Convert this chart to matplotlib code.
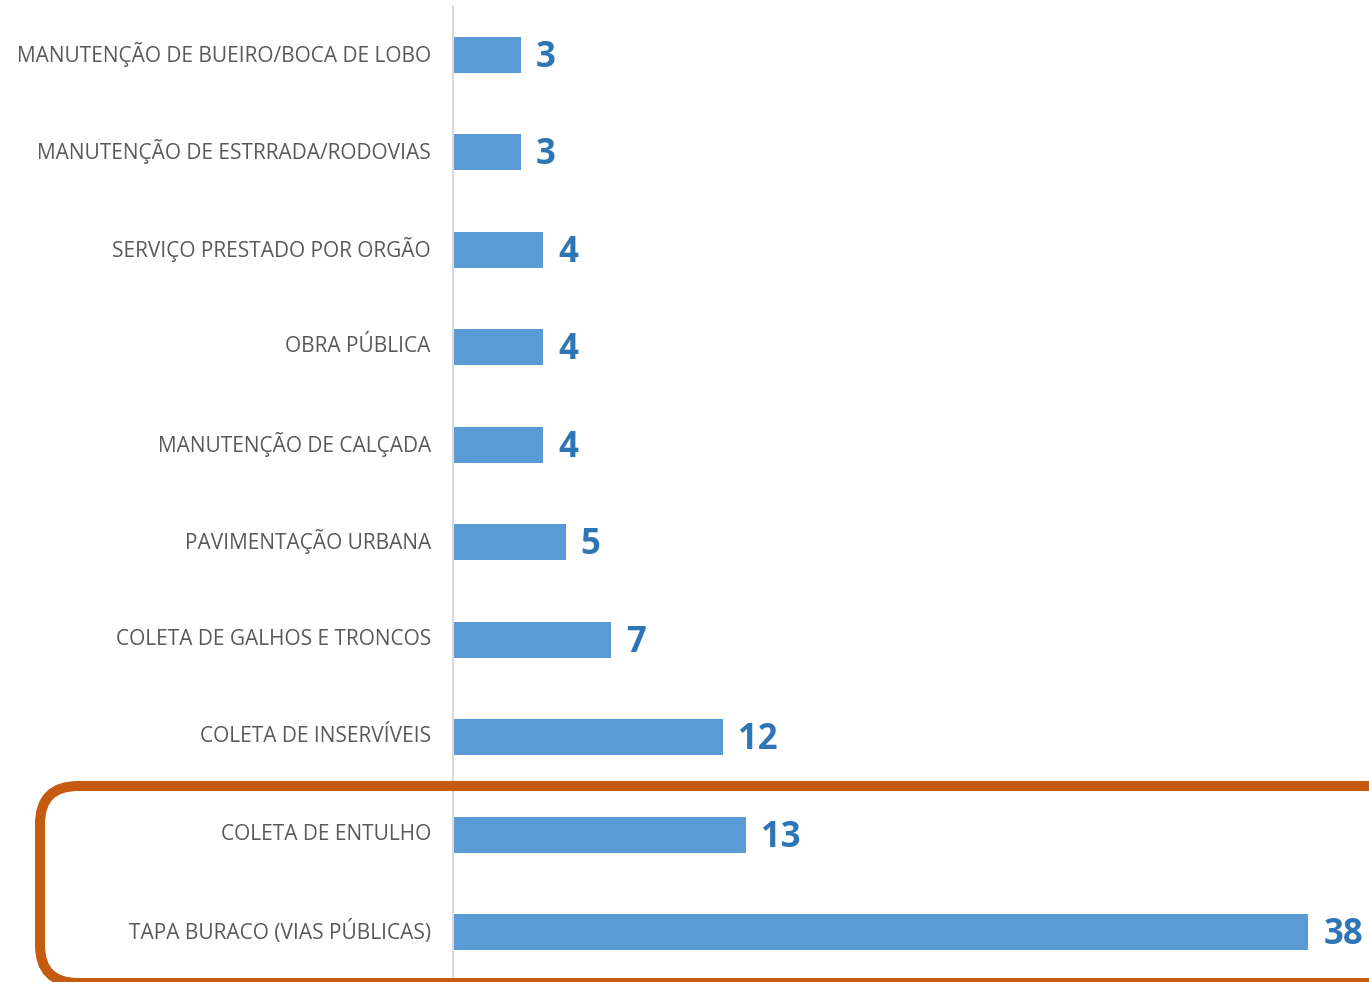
#!/usr/bin/env python

import matplotlib
matplotlib.use("Agg")
import matplotlib.pyplot as plt
from matplotlib.patches import FancyBboxPatch
from matplotlib.transforms import IdentityTransform, ScaledTranslation

categories = [
    "MANUTENÇÃO DE BUEIRO/BOCA DE LOBO",
    "MANUTENÇÃO DE ESTRRADA/RODOVIAS",
    "SERVIÇO PRESTADO POR ORGÃO",
    "OBRA PÚBLICA",
    "MANUTENÇÃO DE CALÇADA",
    "PAVIMENTAÇÃO URBANA",
    "COLETA DE GALHOS E TRONCOS",
    "COLETA DE INSERVÍVEIS",
    "COLETA DE ENTULHO",
    "TAPA BURACO (VIAS PÚBLICAS)",
]
counts = [3, 3, 4, 4, 4, 5, 7, 12, 13, 38]

label_font = ["Open Sans", "DejaVu Sans"]

W, H = 1369, 982
fig = plt.figure(figsize=(W / 100, H / 100), dpi=100)
ax = fig.add_axes([453 / W, 1 - 981 / H, 1 - 453 / W, (981 - 6) / H])

ypos = list(range(len(categories)))
ax.barh(ypos, counts, height=0.37, color="#5B9BD5")
ax.set_ylim(len(categories) - 0.5, -0.5)
ax.set_xlim(0, (W - 453) / 22.5)

for y, v in zip(ypos, counts):
    ax.annotate(str(v), xy=(v, y), xytext=(11, -2), textcoords="offset points",
                ha="left", va="center", fontsize=25, fontweight="bold",
                family=label_font, color="#2E75B6", annotation_clip=False)

ax.set_yticks(ypos)
ax.set_yticklabels(categories, family=label_font, fontsize=15, color="#595959")
ax.tick_params(axis="y", length=0, pad=16)
ax.set_xticks([])

# nudge the category labels up a little
shift = ScaledTranslation(0, 3 / 100, fig.dpi_scale_trans)
for lbl in ax.get_yticklabels():
    lbl.set_transform(lbl.get_transform() + shift)

for s in ["top", "right", "bottom"]:
    ax.spines[s].set_visible(False)
ax.spines["left"].set_color("#D9D9D9")
ax.spines["left"].set_linewidth(1.5)

# orange highlight box round the last two bars
box = FancyBboxPatch((40, -1), 1420, 197,
                     boxstyle="round,pad=0,rounding_size=38",
                     transform=IdentityTransform(), fill=False,
                     edgecolor="#C55A11", linewidth=7.2, clip_on=False)
fig.add_artist(box)

fig.savefig("out.png", dpi=100)
